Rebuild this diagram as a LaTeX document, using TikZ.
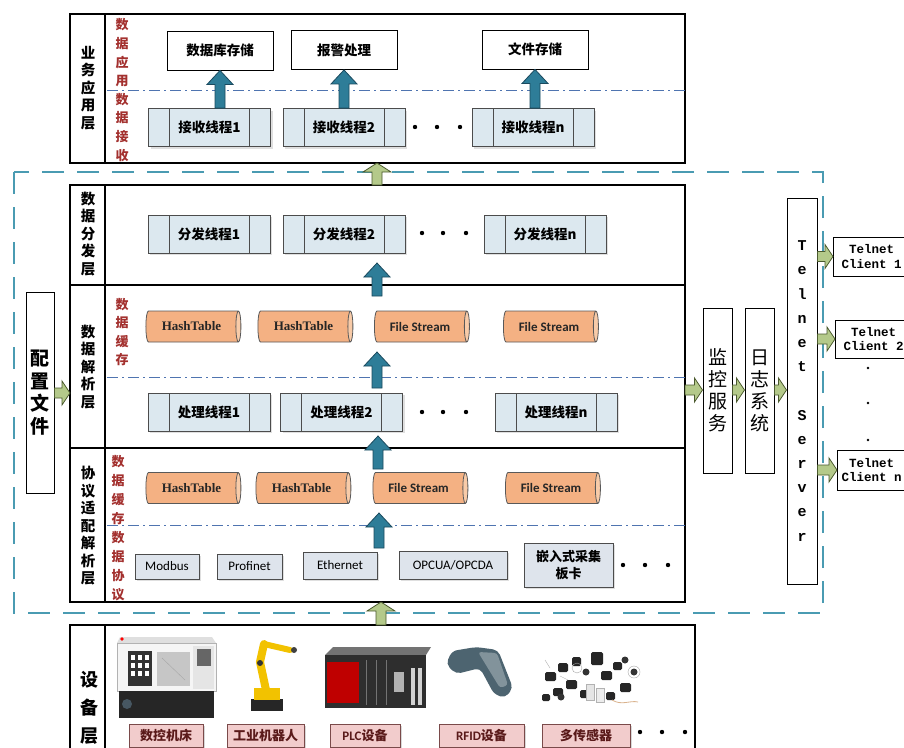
\documentclass[tikz,border=0pt]{standalone}
\usepackage{fontspec}
\setmainfont{Liberation Serif}
\newfontfamily\cjk{Noto Sans CJK SC}
\newfontfamily\monof{Liberation Mono}
\newfontfamily\carl{Carlito}
\usetikzlibrary{shapes.geometric,shadows,calc}
\definecolor{teal1}{HTML}{4A9BB2}
\definecolor{arrblue}{HTML}{2E7D98}
\definecolor{arrblued}{HTML}{1B4A5E}
\definecolor{arrgreen}{HTML}{B4C98A}
\definecolor{arrgreend}{HTML}{4B5A2E}
\definecolor{thrfill}{HTML}{DCE8EF}
\definecolor{cylfill}{HTML}{F4B183}
\definecolor{cylend}{HTML}{F8CBA8}
\definecolor{redtxt}{HTML}{A3302E}
\definecolor{dashblue}{HTML}{4F74B0}
\definecolor{protofill}{HTML}{DEE4EC}
\definecolor{devfill}{HTML}{F2CCCC}
\definecolor{devbord}{HTML}{7A4A4A}
\definecolor{devtxt}{HTML}{5A1A1A}
\definecolor{robotY}{HTML}{F2C200}
\definecolor{rfidC}{HTML}{4D6470}
\newcommand\blueup[2]{\filldraw[barr] let \p1=(#1), \p2=(#2) in
  (\x1-5pt,\y1) -- (\x1-5pt,\y2-14pt) -- (\x1-13pt,\y2-14pt) -- (\x1,\y2) --
  (\x1+13pt,\y2-14pt) -- (\x1+5pt,\y2-14pt) -- (\x1+5pt,\y1) -- cycle;}
\newcommand\greenup[2]{\filldraw[garr] let \p1=(#1), \p2=(#2) in
  (\x1-5pt,\y1) -- (\x1-5pt,\y2-9pt) -- (\x1-14pt,\y2-9pt) -- (\x1,\y2) --
  (\x1+14pt,\y2-9pt) -- (\x1+5pt,\y2-9pt) -- (\x1+5pt,\y1) -- cycle;}
\newcommand\greenright[2]{\filldraw[garr] let \p1=(#1), \p2=(#2) in
  (\x1,\y1+5pt) -- (\x2-8pt,\y1+5pt) -- (\x2-8pt,\y1+12pt) -- (\x2,\y1) --
  (\x2-8pt,\y1-12pt) -- (\x2-8pt,\y1-5pt) -- (\x1,\y1-5pt) -- cycle;}
\begin{document}
\begin{tikzpicture}[x=1pt,y=-1pt,
 lay/.style={draw=black, line width=1.1pt, inner sep=0pt, outer sep=0pt},
 lab/.style={font=\cjk\bfseries\fontsize{14.5}{17.5}\selectfont, align=center, inner sep=0pt},
 redlab/.style={font=\cjk\bfseries\fontsize{13}{18.6}\selectfont, text=redtxt, align=center, inner sep=0pt},
 thr/.style={draw=black!70, fill=thrfill, line width=0.8pt, minimum width=122pt, minimum height=38pt, inner sep=0pt,
   font=\cjk\bfseries\fontsize{13.5}{15}\selectfont,
   drop shadow={shadow xshift=2pt, shadow yshift=-2pt, opacity=0.25},
   path picture={\draw[black!70, line width=0.8pt] ([xshift=21pt]path picture bounding box.south west) -- ([xshift=21pt]path picture bounding box.north west);
                 \draw[black!70, line width=0.8pt] ([xshift=-21pt]path picture bounding box.south east) -- ([xshift=-21pt]path picture bounding box.north east);}},
 tbox/.style={draw=black, line width=0.9pt, minimum width=106pt, minimum height=39pt, inner sep=0pt, font=\cjk\bfseries\fontsize{13.5}{15}\selectfont},
 cyl/.style={cylinder, shape border rotate=0, aspect=0.45, draw=black!65, line width=0.8pt, cylinder uses custom fill,
   cylinder body fill=cylfill, cylinder end fill=cylend, minimum width=31pt, minimum height=95pt, inner sep=1pt},
 hfont/.style={font=\bfseries\fontsize{13}{15}\selectfont, text=black!85},
 ffont/.style={font=\carl\bfseries\fontsize{13}{15}\selectfont, text=black!85},
 proto/.style={draw=black!70, fill=protofill, line width=0.8pt, font=\carl\fontsize{13}{15}\selectfont, inner sep=0pt,
   drop shadow={shadow xshift=2pt, shadow yshift=-2pt, opacity=0.25}},
 vbox/.style={draw=black, line width=1pt, inner sep=0pt, align=center, font=\cjk\bfseries\fontsize{19}{22.5}\selectfont},
 devlab/.style={draw=devbord, fill=devfill, line width=0.8pt, minimum height=23pt, inner sep=0pt,
   font=\cjk\bfseries\fontsize{13}{15}\selectfont, text=devtxt,
   drop shadow={shadow xshift=2pt, shadow yshift=-2pt, opacity=0.3}},
 client/.style={draw=black, line width=1pt, font=\monof\bfseries\fontsize{12.5}{14.5}\selectfont, align=center, inner sep=0pt, anchor=west},
 barr/.style={fill=arrblue, draw=arrblued, line width=0.8pt},
 garr/.style={fill=arrgreen, draw=arrgreend, line width=0.8pt},
 ddash/.style={draw=dashblue, line width=1pt, dash pattern=on 11pt off 4pt on 2pt off 4pt},
 tdash/.style={draw=teal1, line width=2.8pt, dash pattern=on 22pt off 13pt}]
\useasboundingbox (0,0) rectangle (904,747);
\fill[white] (0,0) rectangle (904,747);

% dashed enclosure
\draw[tdash] (14,172) rectangle (823,613);

% layers
\node[lay, minimum width=615pt, minimum height=149pt] (L1) at (377.5,88.5) {};
\node[lay, minimum width=615pt, minimum height=100pt] (L2) at (377.5,235) {};
\node[lay, minimum width=615pt, minimum height=163pt] (L3) at (377.5,366.5) {};
\node[lay, minimum width=615pt, minimum height=154pt] (L4) at (377.5,525) {};
\node[lay, minimum width=625pt, minimum height=135pt] (L5) at (382.5,692.5) {};
\foreach \L in {L1,L2,L3,L4,L5}
  \draw[line width=1.1pt] ([xshift=35pt]\L.north west) -- ([xshift=35pt]\L.south west);

% layer labels
\node[lab] (t1) at (88,88) {业\\务\\应\\用\\层};
\node[lab] (t2) at (88,234) {数\\据\\分\\发\\层};
\node[lab] (t3) at (88,367) {数\\据\\解\\析\\层};
\node[lab] (t4) at (88,526) {协\\议\\适\\配\\解\\析\\层};
\node[lab, font=\cjk\bfseries\fontsize{18}{28}\selectfont] (t5) at (89,708) {设\\备\\层};

% red labels
\node[redlab] (r1) at (122,90) {数\\据\\应\\用\\数\\据\\接\\收};
\node[redlab] (r2) at (122,332) {数\\据\\缓\\存};
\node[redlab, font=\cjk\bfseries\fontsize{13}{19}\selectfont] (r3) at (118,528) {数\\据\\缓\\存\\数\\据\\协\\议};

% dash-dot separators
\draw[ddash] (107,90) -- (L1.east |- 0,90);
\draw[ddash] (107,377) -- (L3.east |- 0,377);
\draw[ddash] (107,525) -- (L4.east |- 0,525);

% business layer
\node[tbox] (db) at (220,50.5) {数据库存储};
\node[tbox] (alarm) at (344,50) {报警处理};
\node[tbox] (fstore) at (535,49.5) {文件存储};
\node[thr] (rcv1) at (209.5,127.5) {接收线程1};
\node[thr] (rcv2) at (344,127.5) {接收线程2};
\node[thr] (rcvn) at (533,127.5) {接收线程n};
\blueup{db.south |- rcv1.north}{db.south}
\blueup{alarm.south |- rcv2.north}{alarm.south}
\blueup{fstore.south |- rcvn.north}{fstore.south}

% distribution layer
\node[thr] (dist1) at (209,234) {分发线程1};
\node[thr] (dist2) at (344,234) {分发线程2};
\node[thr] (distn) at (545,234) {分发线程n};

% parsing layer
\node[cyl, hfont] (c1) at (191.5,326.5) {HashTable};
\node[cyl, hfont] (c2) at (303.5,326.5) {HashTable};
\node[cyl, ffont] (c3) at (420,326.5) {File Stream};
\node[cyl, ffont] (c4) at (549,326.5) {File Stream};
\node[thr] (proc1) at (209,412) {处理线程1};
\node[thr] (proc2) at (341.5,412) {处理线程2};
\node[thr] (procn) at (556,412) {处理线程n};

% protocol layer
\node[cyl, hfont] (c5) at (191.5,488) {HashTable};
\node[cyl, hfont] (c6) at (301.5,488) {HashTable};
\node[cyl, ffont] (c7) at (418.5,488) {File Stream};
\node[cyl, ffont] (c8) at (551,488) {File Stream};
\node[proto, minimum width=64pt, minimum height=25pt] (modbus) at (167,566.5) {Modbus};
\node[proto, minimum width=65pt, minimum height=25pt] (profi) at (249.5,566.5) {Profinet};
\node[proto, minimum width=74pt, minimum height=27pt] (ether) at (340,565.5) {Ethernet};
\node[proto, minimum width=108pt, minimum height=28pt] (opc) at (453,565) {OPCUA/OPCDA};
\node[proto, minimum width=89pt, minimum height=44pt, align=center, font=\cjk\bfseries\fontsize{13}{17}\selectfont] (emb) at (568.5,565) {嵌入式采集\\板卡};

% blue vertical arrows in the stack
\coordinate (ax) at (377,0);
\coordinate (b1) at (377,296); \coordinate (e1) at (377,263);
\coordinate (b2) at (377,388); \coordinate (e2) at (377,352);
\coordinate (b3) at (378,469); \coordinate (e3) at (378,436);
\coordinate (b4) at (379,548); \coordinate (e4) at (379,513);
\blueup{b1}{e1}
\blueup{b2}{e2}
\blueup{b3}{e3}
\blueup{b4}{e4}

% green arrows up
\greenup{ax |- L2.north}{ax |- L1.south}
\coordinate (ax2) at (381,0);
\greenup{ax2 |- L5.north}{ax2 |- L4.south}

% ellipses
\foreach \x/\y in {415/127,437/127,460/127, 422/233,443/233,466/233, 422/412,443/412,466/412,
                   623/565,645/565,668/565, 640/732,662/732,685/732}
  \fill (\x,\y) circle (2.2);
\foreach \y in {368,403,440} \fill (868,\y) circle (1.3);

% config file
\node[vbox, minimum width=28pt, minimum height=201pt] (cfg) at (40,392.5) {配\\置\\文\\件};
\coordinate (ycfg) at (0,393);
\greenright{cfg.east |- ycfg}{L3.west |- ycfg}

% right side services
\node[vbox, minimum width=29pt, minimum height=165pt, font=\cjk\fontsize{19}{22}\selectfont] (mon) at (717.5,390.5) {监\\控\\服\\务};
\node[vbox, minimum width=29pt, minimum height=165pt, font=\cjk\fontsize{19}{22}\selectfont] (log) at (759.5,390.5) {日\\志\\系\\统};
\node[vbox, minimum width=30pt, minimum height=386pt, font=\monof\bfseries\fontsize{15}{24.2}\selectfont] (ts) at (802,391)
  {T\\e\\l\\n\\e\\t\\[24.2pt]S\\e\\r\\v\\e\\r};
\coordinate (yr) at (0,390);
\greenright{L3.east |- yr}{mon.west |- yr}
\greenright{mon.east |- yr}{log.west |- yr}
\greenright{log.east |- yr}{ts.west |- yr}

% telnet clients
\node[client, minimum width=76pt, minimum height=39pt] (cl1) at (833,256.5) {Telnet\\Client 1};
\node[client, minimum width=76pt, minimum height=38pt] (cl2) at (835,339) {Telnet\\Client 2};
\node[client, minimum width=80pt, minimum height=40pt] (cln) at (837,470) {Telnet\hspace*{12pt}\\Client n\hspace*{12pt}};
\greenright{ts.east |- cl1.west}{cl1.west}
\greenright{ts.east |- cl2.west}{cl2.west}
\greenright{ts.east |- cln.west}{cln.west}

% device labels
\node[devlab, minimum width=74pt] (d1) at (166,735.5) {数控机床};
\node[devlab, minimum width=77pt] (d2) at (265.5,735.5) {工业机器人};
\node[devlab, minimum width=70pt, font=\carl\bfseries\fontsize{13}{15}\selectfont] (d3) at (365,735.5) {PLC\cjk 设备};
\node[devlab, minimum width=85pt, font=\carl\bfseries\fontsize{13}{15}\selectfont] (d4) at (481.5,735.5) {RFID\cjk 设备};
\node[devlab, minimum width=88pt] (d5) at (586,735.5) {多传感器};

% --- device pictures ---
% CNC machine
\fill[gray!25] (120,637) -- (212,637) -- (216,643) -- (117,643) -- cycle;
\fill[gray!8] (117,643) rectangle (216,691);
\draw[gray!60, line width=0.6pt] (117,643) rectangle (216,691);
\fill[black!80] (128,651) rectangle (152,686);
\foreach \i in {0,1,2} \foreach \j in {0,1,2}
  \fill[white] (131+7*\i,655+8*\j) rectangle (135+7*\i,660+8*\j);
\fill[gray!45] (157,652) rectangle (190,686);
\draw[gray!70] (162,658) -- (185,680);
\fill[gray!20] (193,646) rectangle (214,689);
\fill[black!60] (197,649) rectangle (211,666);
\fill[black!85] (119,691) rectangle (214,718);
\fill[cyan!30!black] (127,704) circle (5);
\fill[red] (122,639) circle (1.8);
% robot
\fill[black!85] (251,699) rectangle (283,711);
\fill[robotY] (254,688) rectangle (280,700);
\draw[robotY, line width=8pt, line cap=round] (266,690) -- (260,662) -- (264,644);
\draw[robotY, line width=6pt, line cap=round] (264,644) -- (290,650);
\fill[black!80] (260,663) circle (3);
\fill[black!75] (294,650) circle (3);
% PLC
\fill[black!55] (325,655) -- (333,647) -- (431,647) -- (426,655) -- cycle;
\fill[black!82] (325,655) rectangle (426,708);
\fill[red!75!black] (327,662) rectangle (359,703);
\foreach \x in {366,376,386} \draw[black!55] (\x,660) -- (\x,705);
\fill[gray!60] (394,672) rectangle (404,692);
\fill[gray!35] (411,668) rectangle (415,705);
\fill[gray!35] (418,668) rectangle (422,705);
% RFID scanner
\fill[rfidC, rounded corners=5pt] (446,664) -- (452,651) -- (476,647) -- (498,650) -- (513,688) -- (505,698) -- (494,694) -- (480,668) -- (456,674) -- cycle;
\fill[rfidC!70!white, rounded corners=3pt] (478,652) -- (497,653) -- (508,685) -- (500,688) -- cycle;
% sensors
\foreach \x/\y/\w/\h in {545/672/11/9, 558/663/10/9, 572/657/9/9, 591/652/12/13, 553/688/10/8, 566/680/11/9,
                         580/690/10/8, 601/671/11/9, 613/662/9/8, 620/683/11/9, 542/694/8/7, 606/692/9/8}
  \fill[black!85, rounded corners=1.5pt] (\x,\y) rectangle ++(\w,\h);
\foreach \x/\y in {625/660, 634/672, 586/672, 561/697}
  \fill[black!80] (\x,\y) circle (3.5);
\fill[gray!20] (586,684) rectangle (594,700); \draw[gray!60] (586,684) rectangle (594,700);
\fill[gray!15] (596,688) rectangle (604,702); \draw[gray!60] (596,688) rectangle (604,702);
\draw[gray!70] (577,668) circle (5);
\draw[brown!60, line width=0.8pt] (612,700) .. controls (622,706) and (630,700) .. (638,702);
\draw[gray!70] (634,672) circle (6);
\draw[gray!60] (550,668) -- (545,660);
\draw[gray!60] (568,680) -- (560,676);
\end{tikzpicture}
\end{document}
